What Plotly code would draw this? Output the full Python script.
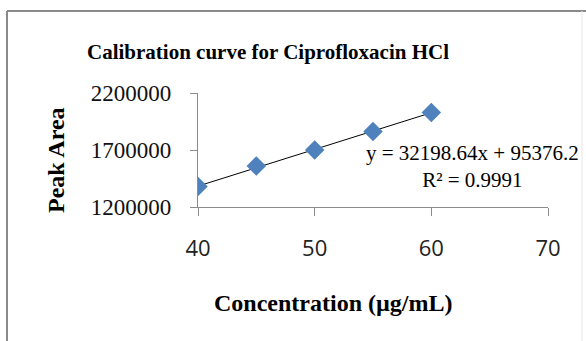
import plotly.graph_objects as go

# Data
concentration = [40, 45, 50, 55, 60]
peak_area = [1380000, 1560000, 1700000, 1862000, 2030000]
slope = 32198.64
intercept = 95376.2
r_squared = 0.9991
x_ticks = [40, 50, 60, 70]
y_ticks = [1200000, 1700000, 2200000]
title_text = "Calibration curve for Ciprofloxacin HCl"
x_title = "Concentration (µg/mL)"
y_title = "Peak Area"

W, H = 586, 341
L, R, T, B = 198, 586 - 548, 93, 341 - 207
pw, ph = W - L - R, H - T - B

def px(x):
    return (x - L) / pw

def py(y):
    return (H - B - y) / ph

fig = go.Figure()

x_fit = [min(concentration), max(concentration)]
y_fit = [slope * x + intercept for x in x_fit]
fig.add_trace(go.Scatter(x=x_fit, y=y_fit, mode="lines",
                         line=dict(color="black", width=1), showlegend=False,
                         hoverinfo="skip"))
fig.add_trace(go.Scatter(x=concentration, y=peak_area, mode="markers",
                         marker=dict(symbol="diamond", size=15, color="#4F81BD",
                                     line=dict(width=0)),
                         showlegend=False))

serif = "Liberation Serif, Times New Roman, serif"
sans = "Open Sans, Liberation Sans, sans-serif"

fig.update_layout(
    width=W, height=H,
    margin=dict(l=L, r=R, t=T, b=B, pad=0),
    paper_bgcolor="white", plot_bgcolor="white",
    title=dict(text=f"<b>{title_text}</b>",
               font=dict(family=serif, size=21, color="black"),
               x=268 / W, xanchor="center",
               y=1 - 52 / H, yanchor="middle"),
    xaxis=dict(range=[40, 70], tickvals=x_ticks, ticktext=[str(v) for v in x_ticks],
               showgrid=False, zeroline=False, showline=True,
               linecolor="#8c8c8c", linewidth=1.3,
               ticks="outside", ticklen=8, tickcolor="#8c8c8c", tickwidth=1.3,
               tickfont=dict(family=sans, size=22, color="#222"),
               ticklabelstandoff=13),
    yaxis=dict(range=[1200000, 2200000], tickvals=y_ticks,
               ticktext=[str(v) for v in y_ticks],
               showgrid=False, zeroline=False, showline=True,
               linecolor="#8c8c8c", linewidth=1.3,
               ticks="outside", ticklen=7, tickcolor="#8c8c8c", tickwidth=1.3,
               tickfont=dict(family=serif, size=23, color="#111"),
               ticklabelstandoff=14),
    shapes=[
        dict(type="line", xref="paper", yref="paper", x0=px(7), x1=px(586), y0=py(11), y1=py(11),
             line=dict(color="#8a8a8a", width=2)),
        dict(type="line", xref="paper", yref="paper", x0=px(7), x1=px(7), y0=py(11), y1=py(341),
             line=dict(color="#8a8a8a", width=2)),
        dict(type="line", xref="paper", yref="paper", x0=px(582), x1=px(582), y0=py(11), y1=py(341),
             line=dict(color="#e6e6e6", width=1)),
    ],
    annotations=[
        dict(xref="paper", yref="paper", x=px(472), y=py(166), xanchor="center", yanchor="middle",
             text=f"y = {slope}x + {intercept}<br>R² = {r_squared}", showarrow=False,
             font=dict(family=serif, size=21, color="black"), align="center"),
        dict(xref="paper", yref="paper", x=px(333), y=py(303), xanchor="center", yanchor="middle",
             text=f"<b>{x_title}</b>", showarrow=False,
             font=dict(family=serif, size=24, color="black")),
        dict(xref="paper", yref="paper", x=px(56), y=py(160), xanchor="center", yanchor="middle",
             text=f"<b>{y_title}</b>", showarrow=False, textangle=-90,
             font=dict(family=serif, size=24, color="black")),
    ],
)

fig.write_html("out.html", config={"displayModeBar": False},
               post_script="document.body.style.margin='0';document.body.style.overflow='hidden';")
